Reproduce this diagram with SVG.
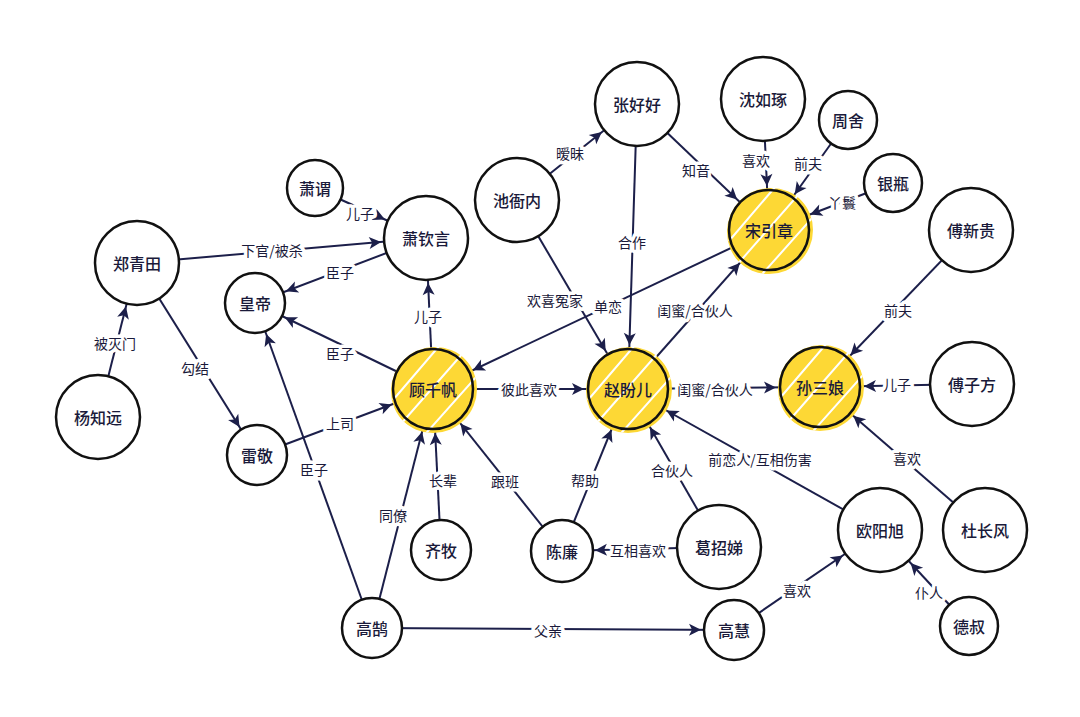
<svg xmlns="http://www.w3.org/2000/svg" width="1080" height="717" viewBox="0 0 1080 717">
<style>
.e line{stroke:#1c1f4a;stroke-width:2}
.n circle.o{fill:#fff;stroke:#111;stroke-width:2.5}
.n text{font-family:"Noto Sans CJK SC",sans-serif;font-size:16px;fill:#1a1a3a;text-anchor:middle;dominant-baseline:central;font-weight:500}
.l text{font-family:"Noto Sans CJK SC",sans-serif;font-size:14px;fill:#1a1a3a;text-anchor:middle;dominant-baseline:central;stroke:#fff;stroke-width:7;paint-order:stroke;stroke-linejoin:round}
.y{fill:#fdd835}
.h{stroke:#fff;stroke-width:2}
.r{fill:none;stroke:#111;stroke-width:2.5}
</style>
<defs>
<marker id="a30" markerUnits="userSpaceOnUse" orient="auto" markerWidth="12" markerHeight="12" refX="45" refY="6" overflow="visible"><path d="M0,0 L12,6 L0,12 L3,6z" fill="#1c1f4a"/></marker>
<marker id="a40" markerUnits="userSpaceOnUse" orient="auto" markerWidth="12" markerHeight="12" refX="56" refY="6" overflow="visible"><path d="M0,0 L12,6 L0,12 L3,6z" fill="#1c1f4a"/></marker>
<marker id="a42" markerUnits="userSpaceOnUse" orient="auto" markerWidth="12" markerHeight="12" refX="57" refY="6" overflow="visible"><path d="M0,0 L12,6 L0,12 L3,6z" fill="#1c1f4a"/></marker>
<clipPath id="cg"><circle cx="433" cy="389" r="44"/></clipPath>
<clipPath id="cz"><circle cx="628" cy="389" r="44"/></clipPath>
<clipPath id="cs"><circle cx="769" cy="230" r="44"/></clipPath>
<clipPath id="cn"><circle cx="820" cy="387" r="44"/></clipPath>
</defs>
<rect width="1080" height="717" fill="#fff"/>
<g class="e" id="edges">
<line x1="98" y1="417" x2="137" y2="263" marker-end="url(#a42)"/>
<line x1="137" y1="263" x2="426" y2="238" marker-end="url(#a42)"/>
<line x1="137" y1="263" x2="257" y2="455" marker-end="url(#a30)"/>
<line x1="315" y1="188" x2="426" y2="238" marker-end="url(#a42)"/>
<line x1="426" y1="238" x2="255" y2="303" marker-end="url(#a30)"/>
<line x1="433" y1="389" x2="426" y2="238" marker-end="url(#a42)"/>
<line x1="433" y1="389" x2="255" y2="303" marker-end="url(#a30)"/>
<line x1="257" y1="455" x2="433" y2="389" marker-end="url(#a40)"/>
<line x1="372" y1="628" x2="255" y2="303" marker-end="url(#a30)"/>
<line x1="372" y1="628" x2="433" y2="389" marker-end="url(#a40)"/>
<line x1="441" y1="550" x2="433" y2="389" marker-end="url(#a40)"/>
<line x1="562" y1="551" x2="433" y2="389" marker-end="url(#a40)"/>
<line x1="562" y1="551" x2="628" y2="389" marker-end="url(#a40)"/>
<line x1="719" y1="547" x2="628" y2="389" marker-end="url(#a40)"/>
<line x1="719" y1="547" x2="562" y2="551" marker-end="url(#a30)"/>
<line x1="880" y1="530" x2="628" y2="389" marker-end="url(#a40)"/>
<line x1="433" y1="389" x2="628" y2="389" marker-end="url(#a40)"/>
<line x1="628" y1="389" x2="820" y2="387" marker-end="url(#a40)"/>
<line x1="972" y1="384" x2="820" y2="387" marker-end="url(#a40)"/>
<line x1="971" y1="230" x2="820" y2="387" marker-end="url(#a40)"/>
<line x1="985" y1="530" x2="820" y2="387" marker-end="url(#a40)"/>
<line x1="969" y1="626" x2="880" y2="530" marker-end="url(#a42)"/>
<line x1="372" y1="628" x2="734" y2="630" marker-end="url(#a30)"/>
<line x1="734" y1="630" x2="880" y2="530" marker-end="url(#a42)"/>
<line x1="769" y1="230" x2="433" y2="389" marker-end="url(#a40)"/>
<line x1="628" y1="389" x2="769" y2="230" marker-end="url(#a40)"/>
<line x1="517" y1="200" x2="628" y2="389" marker-end="url(#a40)"/>
<line x1="637" y1="104" x2="628" y2="389" marker-end="url(#a40)"/>
<line x1="517" y1="200" x2="637" y2="104" marker-end="url(#a42)"/>
<line x1="637" y1="104" x2="769" y2="230" marker-end="url(#a40)"/>
<line x1="763" y1="99" x2="769" y2="230" marker-end="url(#a40)"/>
<line x1="848" y1="120" x2="769" y2="230" marker-end="url(#a40)"/>
<line x1="893" y1="183" x2="769" y2="230" marker-end="url(#a40)"/>
</g>
<g class="n">
<g id="zqt"><circle class="o" cx="137" cy="263" r="42"/><text x="137" y="263">郑青田</text></g>
<g id="yzy"><circle class="o" cx="98" cy="417" r="42"/><text x="98" y="417">杨知远</text></g>
<g id="xw"><circle class="o" cx="315" cy="188" r="28"/><text x="315" y="188">萧谓</text></g>
<g id="xqy"><circle class="o" cx="426" cy="238" r="42"/><text x="426" y="238">萧钦言</text></g>
<g id="hd"><circle class="o" cx="255" cy="303" r="30"/><text x="255" y="303">皇帝</text></g>
<g id="lj"><circle class="o" cx="257" cy="455" r="30"/><text x="257" y="455">雷敬</text></g>
<g id="chn"><circle class="o" cx="517" cy="200" r="42"/><text x="517" y="200">池衙内</text></g>
<g id="zhh"><circle class="o" cx="637" cy="104" r="42"/><text x="637" y="104">张好好</text></g>
<g id="srz"><circle class="o" cx="763" cy="99" r="42"/><text x="763" y="99">沈如琢</text></g>
<g id="zs"><circle class="o" cx="848" cy="120" r="29"/><text x="848" y="120">周舍</text></g>
<g id="yp"><circle class="o" cx="893" cy="183" r="29"/><text x="893" y="183">银瓶</text></g>
<g id="fxg"><circle class="o" cx="971" cy="230" r="42"/><text x="971" y="230">傅新贵</text></g>
<g id="fzf"><circle class="o" cx="972" cy="384" r="42"/><text x="972" y="384">傅子方</text></g>
<g id="dcf"><circle class="o" cx="985" cy="530" r="42"/><text x="985" y="530">杜长风</text></g>
<g id="oyx"><circle class="o" cx="880" cy="530" r="42"/><text x="880" y="530">欧阳旭</text></g>
<g id="ds"><circle class="o" cx="969" cy="626" r="29"/><text x="969" y="626">德叔</text></g>
<g id="gzd"><circle class="o" cx="719" cy="547" r="42"/><text x="719" y="547">葛招娣</text></g>
<g id="cl"><circle class="o" cx="562" cy="551" r="31"/><text x="562" y="551">陈廉</text></g>
<g id="qm"><circle class="o" cx="441" cy="550" r="30"/><text x="441" y="550">齐牧</text></g>
<g id="gh"><circle class="o" cx="372" cy="628" r="30"/><text x="372" y="628">高鹄</text></g>
<g id="ghui"><circle class="o" cx="734" cy="630" r="30"/><text x="734" y="630">高慧</text></g>
<g id="gqf"><g clip-path="url(#cg)"><circle class="y" cx="435" cy="391" r="44"/><path class="h" d="M393,400 L440,345 M400,425 L470,345 M420,440 L478,375"/></g><circle class="r" cx="433" cy="389" r="40"/><text x="433" y="389">顾千帆</text></g>
<g id="zpe"><g clip-path="url(#cz)"><circle class="y" cx="630" cy="391" r="44"/><path class="h" d="M588,400 L635,345 M595,425 L665,345 M615,440 L673,375"/></g><circle class="r" cx="628" cy="389" r="40"/><text x="628" y="389">赵盼儿</text></g>
<g id="syz"><g clip-path="url(#cs)"><circle class="y" cx="771" cy="232" r="44"/><path class="h" d="M729,241 L776,186 M736,266 L806,186 M756,281 L814,216"/></g><circle class="r" cx="769" cy="230" r="40"/><text x="769" y="230">宋引章</text></g>
<g id="ssn"><g clip-path="url(#cn)"><circle class="y" cx="822" cy="389" r="44"/><path class="h" d="M780,398 L827,343 M787,423 L857,343 M807,438 L865,373"/></g><circle class="r" cx="820" cy="387" r="40"/><text x="820" y="387">孙三娘</text></g>
</g>
<g class="l" id="labels">
<text x="115" y="343">被灭门</text>
<text x="272" y="250">下官/被杀</text>
<text x="195" y="368">勾结</text>
<text x="360" y="213">儿子</text>
<text x="340" y="272">臣子</text>
<text x="428" y="316">儿子</text>
<text x="340" y="353">臣子</text>
<text x="340" y="423">上司</text>
<text x="314" y="469">臣子</text>
<text x="393" y="515">同僚</text>
<text x="443" y="480">长辈</text>
<text x="505" y="481">跟班</text>
<text x="585" y="480">帮助</text>
<text x="672" y="470">合伙人</text>
<text x="638" y="550">互相喜欢</text>
<text x="760" y="459">前恋人/互相伤害</text>
<text x="529" y="389">彼此喜欢</text>
<text x="715" y="389">闺蜜/合伙人</text>
<text x="897" y="384">儿子</text>
<text x="898" y="310">前夫</text>
<text x="907" y="458">喜欢</text>
<text x="929" y="592">仆人</text>
<text x="548" y="630">父亲</text>
<text x="797" y="590">喜欢</text>
<text x="608" y="306">单恋</text>
<text x="695" y="310">闺蜜/合伙人</text>
<text x="555" y="300">欢喜冤家</text>
<text x="632" y="242">合作</text>
<text x="570" y="153">暧昧</text>
<text x="696" y="170">知音</text>
<text x="756" y="160">喜欢</text>
<text x="808" y="163">前夫</text>
<text x="842" y="202">丫鬟</text>
</g>
</svg>
